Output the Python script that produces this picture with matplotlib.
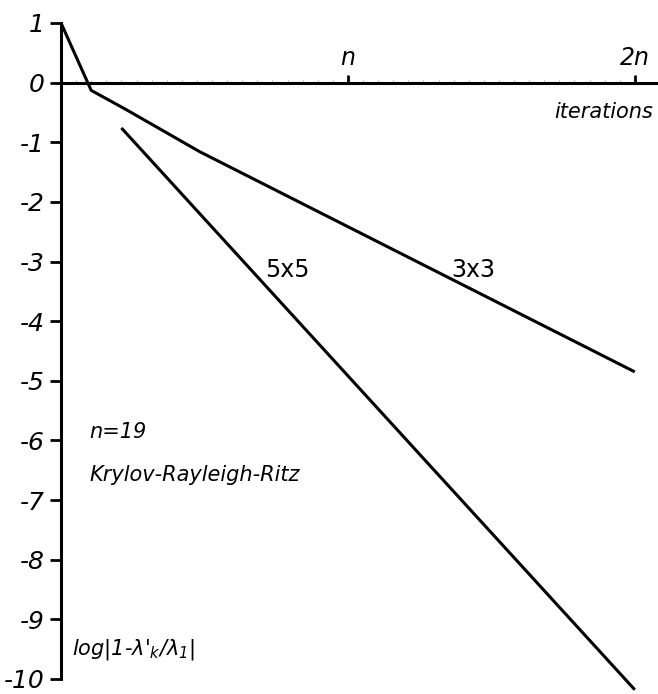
import numpy as np
import matplotlib
matplotlib.use('Agg')
import matplotlib.pyplot as plt

n = 19

# 3x3 Krylov block (iterations, log error)
it_3x3 = [0, 2.0, 4.3, 9.2, 38]
err_3x3 = [1.0, -0.13, -0.45, -1.16, -4.85]

# 5x5 Krylov block
it_5x5 = [4.0, 38]
err_5x5 = [-0.76, -10.18]

yticks = [1, 0, -1, -2, -3, -4, -5, -6, -7, -8, -9, -10]
ytick_labels = ['1', '0', '-1', '-2', '-3', '-4', '-5', '-6', '-7', '-8', '-9', '-10']
xticks = [n, 2 * n]
xtick_labels = ['n', '2n']

plt.rcParams['font.family'] = ['DejaVu Sans']
plt.rcParams['font.style'] = 'italic'

fig = plt.figure(figsize=(6.58, 6.94), dpi=100)
ax = fig.add_axes([61 / 658, (694 - 679) / 694, (656 - 61) / 658, (679 - 23) / 694])

ax.plot(it_3x3, err_3x3, color='black', lw=2.2, clip_on=False, solid_capstyle='butt')
ax.plot(it_5x5, err_5x5, color='black', lw=2.2, clip_on=False, solid_capstyle='butt')

ax.set_xlim(0, (656 - 61) / 15.1)
ax.set_ylim(-10, 1)

for s in ['right', 'bottom']:
    ax.spines[s].set_visible(False)
ax.spines['top'].set_position(('data', 0))
ax.spines['top'].set_linewidth(2.2)
ax.spines['left'].set_linewidth(2.2)

# ticks along the iteration axis point upward, labels above
ax.xaxis.set_ticks_position('top')
ax.set_xticks(xticks)
ax.set_xticklabels(xtick_labels, fontsize=17)
ax.set_xticks(np.arange(1, 39), minor=True)
ax.tick_params(axis='x', which='major', direction='out', length=6, width=2, pad=3)
ax.tick_params(axis='x', which='minor', direction='out', length=2, width=0.5, color='#999999')

ax.set_yticks(yticks)
ax.set_yticklabels(ytick_labels, fontsize=18)
ax.tick_params(axis='y', which='major', direction='out', length=8, width=2, pad=4)

ax.text(39.2, -0.32, 'iterations', ha='right', va='top', fontsize=15)

ax.text(15.0, -3.14, '5x5', ha='center', va='center', fontsize=17, style='normal')
ax.text(27.3, -3.14, '3x3', ha='center', va='center', fontsize=17, style='normal')

ax.text(1.9, -5.86, 'n=19', ha='left', va='center', fontsize=15)
ax.text(1.9, -6.58, 'Krylov-Rayleigh-Ritz', ha='left', va='center', fontsize=15)
ax.text(0.75, -9.51, "log|1-λ'$_k$/λ$_1$|", ha='left', va='center', fontsize=15)

fig.savefig('out.png', dpi=100)
